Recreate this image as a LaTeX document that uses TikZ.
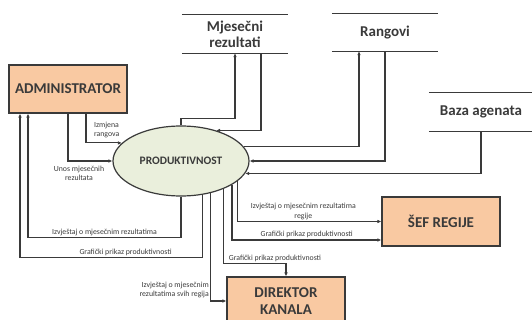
\documentclass[tikz,border=0pt]{standalone}
\usepackage{fontspec}
\setmainfont{Carlito}
\usetikzlibrary{calc,arrows.meta,shapes.geometric}
\definecolor{entfill}{RGB}{249,201,162}
\definecolor{procfill}{RGB}{234,239,220}
\definecolor{ink}{RGB}{58,58,58}

\begin{document}
\begin{tikzpicture}[x=1pt,y=-1pt,
			ent/.style={draw=ink,fill=entfill,line width=1.2pt,minimum width=118pt,minimum height=48pt,inner sep=0pt,
				align=center,text=ink,font=\bfseries\fontsize{15}{17}\selectfont},
			proc/.style={ellipse,draw=ink,fill=procfill,line width=1.2pt,minimum width=136pt,minimum height=70pt,inner sep=0pt,
				text=ink,font=\bfseries\fontsize{11.4}{13}\selectfont},
			store/.style={minimum width=106pt,minimum height=38pt,inner sep=0pt,align=center,text=ink,
				font=\bfseries\fontsize{15}{16}\selectfont},
			edge/.style={draw=ink,line width=1.2pt},
			flow/.style={-{Latex[length=4pt,width=3.6pt]},draw=ink,line width=1.1pt},
			lbl/.style={font=\fontsize{7.8}{9.5}\selectfont,text=ink,inner sep=1.5pt}]
			\clip (0,0) rectangle (532,320);
			%% process, entities and stores
			\node[proc] (prod) at (181,161) {PRODUKTIVNOST};
			\node[ent] (adm) at (68,89) {ADMINISTRATOR};
			\node[ent,minimum height=49pt] (sef) at (441,221.5) {ŠEF REGIJE};
			\node[ent] (dir) at (286,301) {DIREKTOR\\KANALA};
			\node[store] (mjr) at (235,34) {Mjesečni\\rezultati};
			\node[store,minimum height=37pt] (rang) at (385,32.5) {Rangovi};
			\node[store,minimum width=104pt] (baza) at (481,112) {Baza agenata};
			\foreach \s in {mjr,rang,baza}
				\draw[edge] (\s.north west) -- (\s.north east) (\s.south west) -- (\s.south east);
			%% flows to and from the stores
			\draw[flow] (prod.north) -- ++(0,-7) -| (mjr.south);
			\draw[flow] ([xshift=26pt]mjr.south) |- (prod.41);
			\draw[flow] (prod.13) -| ([xshift=-26pt]rang.south);
			\draw[flow] (rang.south) |- (prod.east);
			\draw[flow] (baza.south) |- (prod.-11);
			%% administrator
			\draw[flow] ([xshift=18pt]adm.south) |- node[pos=0.5,lbl,anchor=south west,align=left,xshift=6pt,yshift=3pt] {Izmjena\\rangova} (prod.163);
			\draw[flow] (adm.south) |- node[pos=0.5,lbl,anchor=north,align=center,xshift=11pt,yshift=-3pt] {Unos mjesečnih\\rezultata} (prod.west);
			\draw[flow] (prod.south) -- ++(0,41) -| node[pos=0.25,lbl,above] {Izvještaj o mjesečnim rezultatima} ([xshift=-40pt]adm.south);
			\draw[flow] (prod.-58) -- ++(0,63) -| node[pos=0.21,lbl,above] {Grafički prikaz produktivnosti} ([xshift=-48pt]adm.south);
			%% director
			\draw[flow] (prod.-47.5) |- node[pos=0.5,lbl,anchor=south east,align=right,yshift=1pt] {Izvještaj o mjesečnim\\rezultatima svih regija} (dir.west);
			\draw[flow] (prod.-33) |- node[pos=0.5,lbl,anchor=south west,xshift=3pt] {Grafički prikaz produktivnosti} ([yshift=13pt]dir.north) -- (dir.north);
			%% head of region
			\draw[flow] (prod.-25) |- node[pos=0.75,lbl,above] {Grafički prikaz produktivnosti} ([yshift=-18.5pt]sef.west);
			\draw[flow] (prod.-20) |- node[pos=0.75,lbl,above,align=center,xshift=-6pt] {Izvještaj o mjesečnim rezultatima\\regije} (sef.west);
		\end{tikzpicture}
\end{document}
